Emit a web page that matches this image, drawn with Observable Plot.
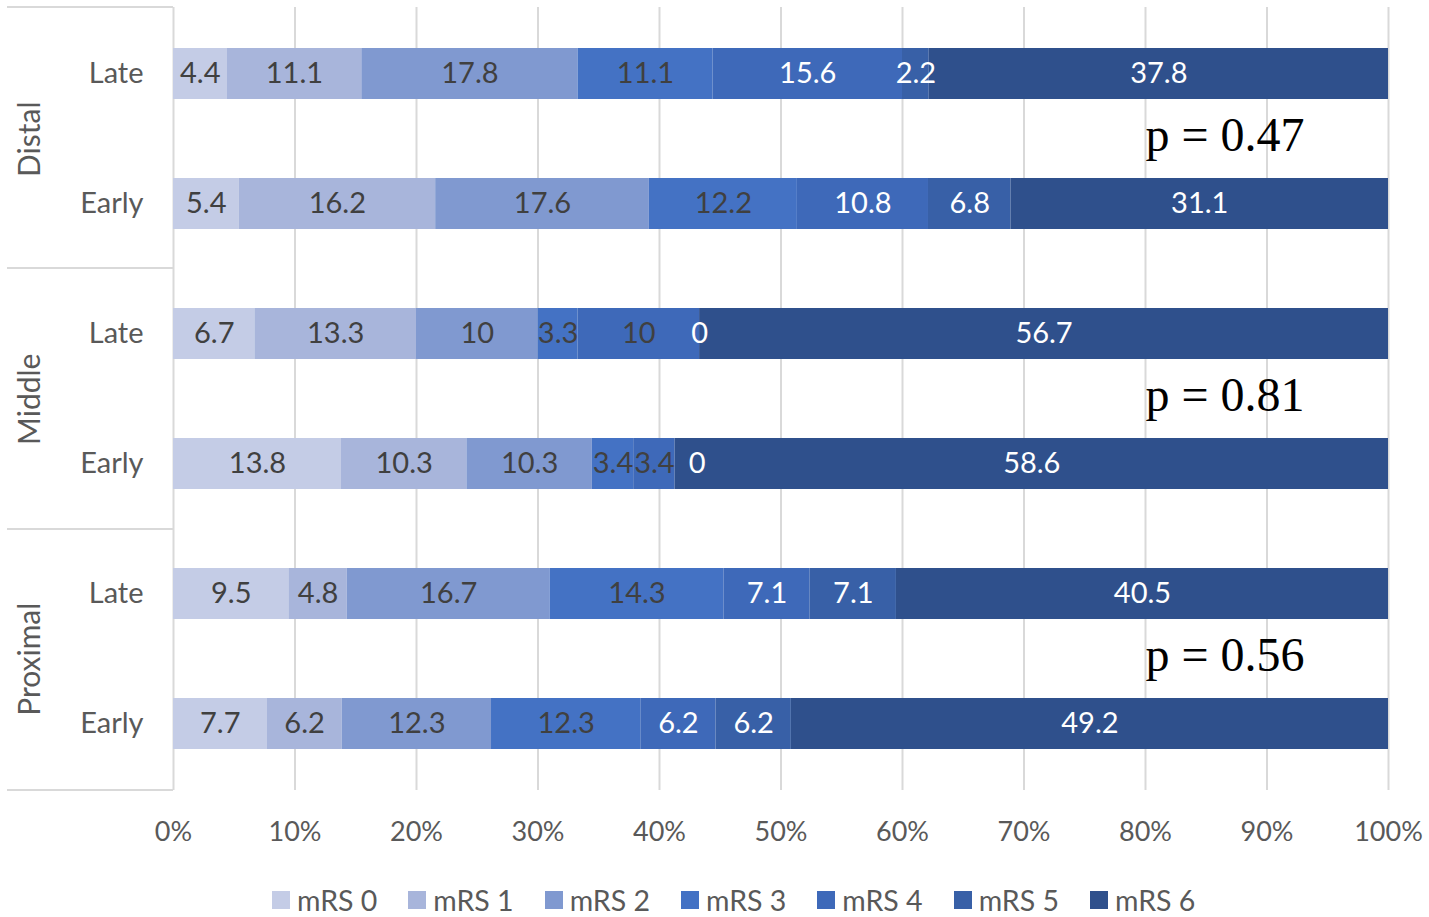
<!DOCTYPE html>
<html>
<head>
<meta charset="utf-8">
<script src="https://cdn.jsdelivr.net/npm/d3@7"></script>
<script src="https://cdn.jsdelivr.net/npm/@observablehq/plot@0.6"></script>
<style>
  html, body { margin: 0; padding: 0; background: #fff; }
  #wrap { position: relative; width: 1429px; height: 917px; font-family: Lato, sans-serif; }
  #legend { position: absolute; left: 272px; top: 884px; height: 32px; display: flex; align-items: center; font-size: 28.5px; color: #595959; }
  .item { display: flex; align-items: center; margin-right: 31px; }
  .sw { width: 18px; height: 18px; margin-right: 7px; }
</style>
</head>
<body>
<div id="wrap"></div>
<script>
const groups = ["Distal", "Middle", "Proximal"];
const timings = ["Late", "Early"];
const mrsLabels = ["mRS 0", "mRS 1", "mRS 2", "mRS 3", "mRS 4", "mRS 5", "mRS 6"];
const colors = ["#c4cce6", "#a8b5db", "#8099d0", "#4472c4", "#3e69b9", "#3860a7", "#2f508c"];

const distalLate    = [4.4, 11.1, 17.8, 11.1, 15.6, 2.2, 37.8];
const distalEarly   = [5.4, 16.2, 17.6, 12.2, 10.8, 6.8, 31.1];
const middleLate    = [6.7, 13.3, 10, 3.3, 10, 0, 56.7];
const middleEarly   = [13.8, 10.3, 10.3, 3.4, 3.4, 0, 58.6];
const proximalLate  = [9.5, 4.8, 16.7, 14.3, 7.1, 7.1, 40.5];
const proximalEarly = [7.7, 6.2, 12.3, 12.3, 6.2, 6.2, 49.2];
const pLabels = ["p = 0.47", "p = 0.81", "p = 0.56"];
const xTicks = [0, 0.1, 0.2, 0.3, 0.4, 0.5, 0.6, 0.7, 0.8, 0.9, 1];

const rowValues = {
  "Distal|Late": distalLate, "Distal|Early": distalEarly,
  "Middle|Late": middleLate, "Middle|Early": middleEarly,
  "Proximal|Late": proximalLate, "Proximal|Early": proximalEarly
};
const rowKeys = groups.flatMap(g => timings.map(t => g + "|" + t));
const data = rowKeys.flatMap(row => rowValues[row].map((v, i) => ({
  row, group: row.split("|")[0], mrs: mrsLabels[i], idx: i, value: v,
  prev: i > 0 ? rowValues[row][i - 1] : null
})));
const pData = groups.map((g, i) => ({group: g, label: pLabels[i]}));

const W = 1429, H = 870, mt = 7, mb = H - 790, ml = 173, mr = 1429 - 1388;
const step = (H - mt - mb) / rowKeys.length;

const labelFill = d => (d.idx <= 3 || (d.idx === 4 && d.group === "Middle")) ? "#404040" : "#ffffff";
// Excel nudges a zero label to the right when the preceding label is crowded
const nudged = d => d.value === 0 && d.prev !== null && d.prev < 5;

const labelOpts = (show, extra) => Plot.stackX({offset: "normalize", x: "value", y: "row", z: "mrs",
  text: d => show(d) ? String(d.value) : "", fill: labelFill, fontSize: 29, ...extra});

const plot = Plot.plot({
  width: W, height: H,
  marginTop: mt, marginBottom: mb, marginLeft: ml, marginRight: mr,
  style: {fontFamily: "Lato, sans-serif", color: "#595959", background: "#fff", overflow: "visible"},
  x: {domain: [0, 1], label: null},
  y: {domain: rowKeys, paddingInner: 0.61, paddingOuter: 0.305, label: null},
  color: {domain: mrsLabels, range: colors},
  marks: [
    Plot.gridX(xTicks, {stroke: "#d9d9d9", strokeOpacity: 1, strokeWidth: 2}),
    Plot.axisX({ticks: xTicks, tickFormat: d3.format(".0%"), tickSize: 0, tickPadding: 31, fontSize: 27, fill: "#595959", label: null}),
    Plot.axisY({tickSize: 0, tickPadding: 30, fontSize: 29, fill: "#595959", label: null, tickFormat: d => d.split("|")[1]}),
    Plot.barX(data, Plot.stackX({offset: "normalize", x: "value", y: "row", z: "mrs", fill: "mrs"})),
    Plot.text(data, labelOpts(d => !nudged(d), {})),
    Plot.text(data, labelOpts(nudged, {dx: 22})),
    Plot.text(pData, {x: () => 0.8, y: d => d.group + "|Late", dy: step / 2 - 4, text: "label",
      textAnchor: "start", fontFamily: "Liberation Serif, serif", fontSize: 48, fill: "#000"}),
    Plot.text(groups, {frameAnchor: "left", y: d => d + "|Late", dy: step / 2, dx: -143,
      rotate: -90, textAnchor: "middle", text: d => d, fontSize: 30, fill: "#595959"})
  ]
});

// group separators in the left margin
const svg = d3.select(plot);
const bounds = [0, 1, 2, 3].map(i => mt + i * step * timings.length);
svg.append("g").selectAll("line").data(bounds).join("line")
  .attr("x1", 7).attr("x2", ml).attr("y1", d => d).attr("y2", d => d)
  .attr("stroke", "#d9d9d9").attr("stroke-width", 2);

document.getElementById("wrap").appendChild(plot);

const legend = d3.select("#wrap").append("div").attr("id", "legend");
const items = legend.selectAll(".item").data(mrsLabels).join("div").attr("class", "item");
items.append("div").attr("class", "sw").style("background", (d, i) => colors[i]);
items.append("span").text(d => d);
</script>
</body>
</html>
